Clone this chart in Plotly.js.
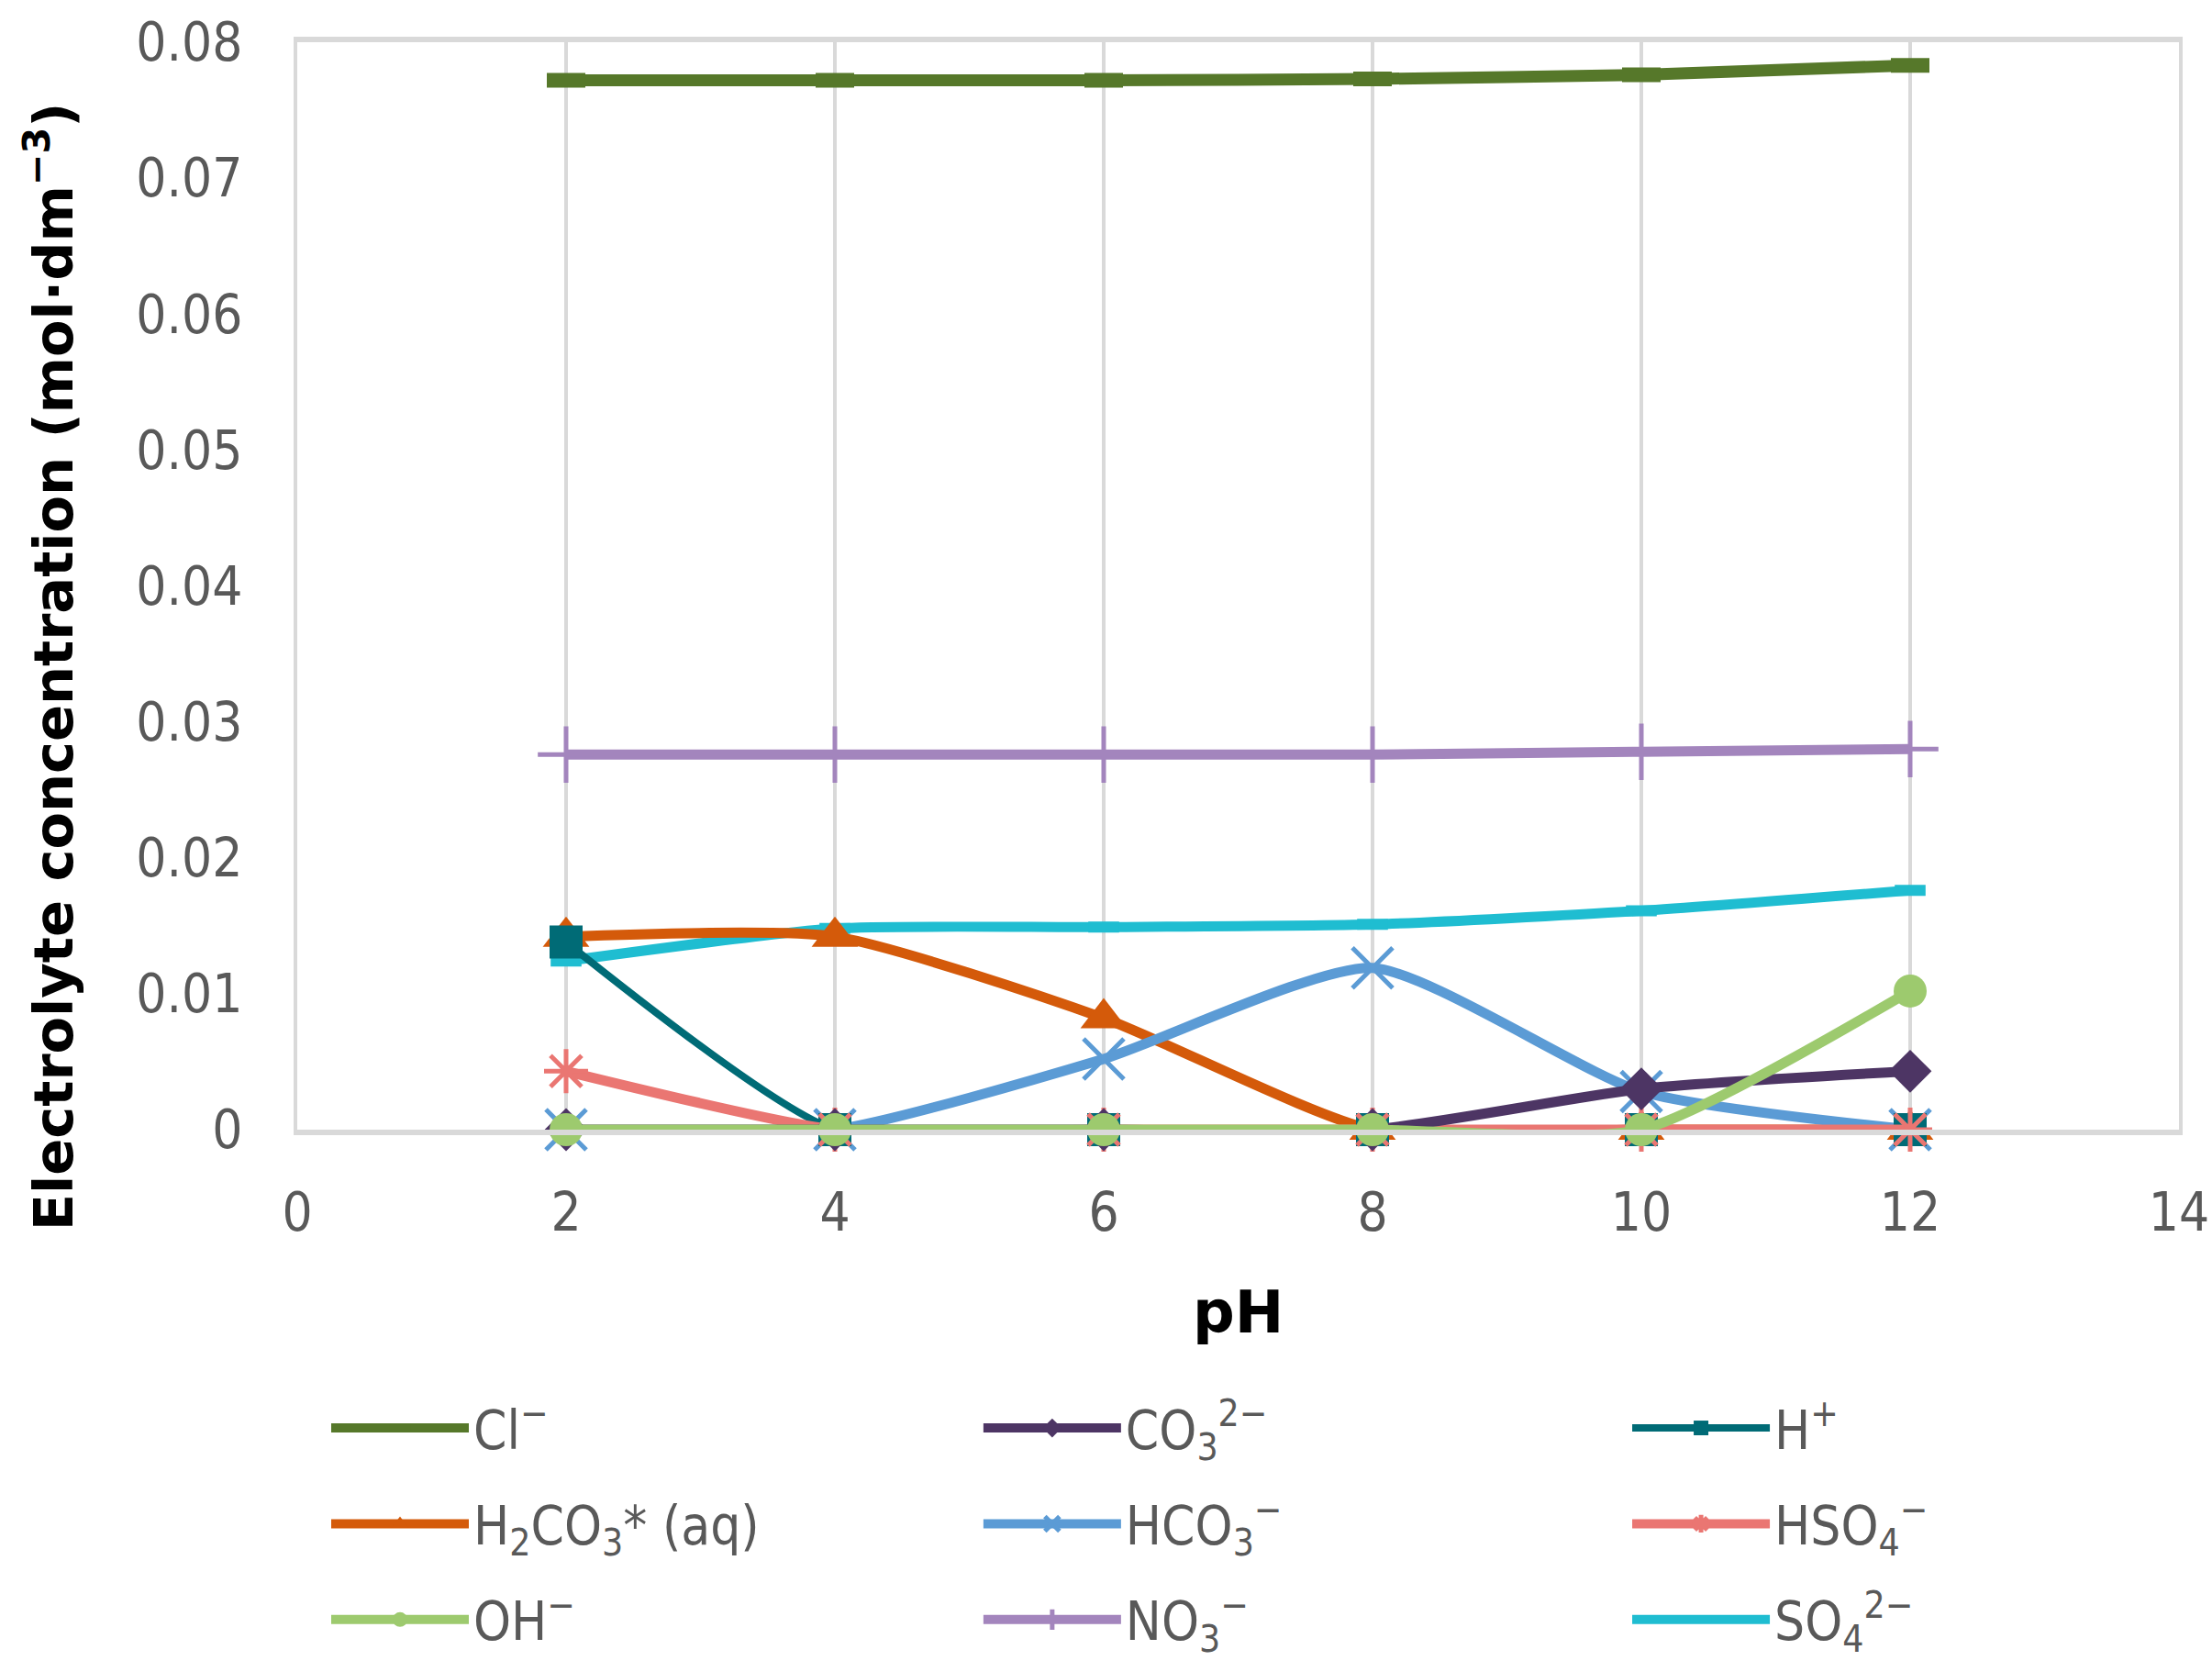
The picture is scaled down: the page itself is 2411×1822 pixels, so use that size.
<!DOCTYPE html>
<html><head><meta charset="utf-8">
<script src="https://cdn.plot.ly/plotly-3.0.1.min.js"></script>
<style>html,body{margin:0;padding:0;background:#fff}</style>
</head><body>
<div id="chart" style="width:2411px;height:1822px"></div>
<script>
const pH = [2, 4, 6, 8, 10, 12];
const seriesNames = [
  "Cl<sup>−</sup>",
  "CO<sub>3</sub><sup>2−</sup>",
  "H<sup>+</sup>",
  "H<sub>2</sub>CO<sub>3</sub>* (aq)",
  "HCO<sub>3</sub><sup>−</sup>",
  "HSO<sub>4</sub><sup>−</sup>",
  "OH<sup>−</sup>",
  "NO<sub>3</sub><sup>−</sup>",
  "SO<sub>4</sub><sup>2−</sup>"
];
const Cl    = [0.0772, 0.0772, 0.0772, 0.0773, 0.0776, 0.0783];
const CO3   = [0, 0, 0, 0, 0.0030, 0.0043];
const H     = [0.0138, 0, 0, 0, 0, 0];
const H2CO3 = [0.0142, 0.0142, 0.0082, 0, 0, 0];
const HCO3  = [0, 0, 0.0052, 0.0119, 0.0028, 0];
const HSO4  = [0.0043, 0, 0, 0, 0, 0];
const OH    = [0, 0, 0, 0, 0, 0.0102];
const NO3   = [0.0276, 0.0276, 0.0276, 0.0276, 0.0278, 0.0280];
const SO4   = [0.0124, 0.0148, 0.0149, 0.0151, 0.0161, 0.0176];
const yTickVals = [0, 0.01, 0.02, 0.03, 0.04, 0.05, 0.06, 0.07, 0.08];
const yTickText = ["0", "0.01", "0.02", "0.03", "0.04", "0.05", "0.06", "0.07", "0.08"];
const xTickVals = [0, 2, 4, 6, 8, 10, 12, 14];

const values = [Cl, CO3, H, H2CO3, HCO3, HSO4, OH, NO3, SO4];
const colors = ["#56782a", "#4d3564", "#006b76", "#d45a0a", "#5b9bd5", "#ea7672", "#9dca6e", "#a385bd", "#1fbdd1"];
const symbols = ["line-ew-open", "diamond", "square", "triangle-up", "x-thin-open", "asterisk-open", "circle", "cross-thin-open", "line-ew-open"];
const msizes = [30, 36, 36, 44, 44, 40, 36, 44, 24];
const mlw = [16, 0, 0, 0, 5, 5, 0, 5, 12];
const lw = [13, 11, 8, 11, 11, 11, 11, 11, 11];
// which legend column each series sits in (row-major grid of 3 columns)
const legendCol = ["legend", "legend2", "legend3", "legend", "legend2", "legend3", "legend", "legend2", "legend3"];

const narrow = "Liberation Sans Narrow, DejaVu Sans Condensed, sans-serif";
const tickFont = {family: narrow, size: 58, color: "#595959"};
const legFont = {family: narrow, size: 58, color: "#595959"};

const traces = values.map((v, i) => ({
  x: pH, y: v, name: seriesNames[i], type: "scatter", mode: "lines+markers",
  line: {color: colors[i], width: lw[i], shape: "spline", smoothing: 0.6},
  marker: {symbol: symbols[i], size: msizes[i], color: colors[i], line: {color: colors[i], width: mlw[i]}},
  cliponaxis: false, legend: legendCol[i], legendgroup: "g" + i, legendrank: i + 1
}));
// drawing order (OH on top, like the reference)
const order = [0, 7, 8, 3, 4, 2, 5, 1, 6];

function legendAt(x) {
  return {
    orientation: "v", x: x, xanchor: "left", y: -0.237, yanchor: "top",
    xref: "paper", yref: "paper",
    font: legFont, itemwidth: 150, tracegroupgap: 26, traceorder: "grouped",
    bgcolor: "rgba(0,0,0,0)", borderwidth: 0
  };
}

const layout = {
  width: 2411, height: 1822,
  margin: {l: 324, r: 36, t: 46, b: 591, autoexpand: false},
  paper_bgcolor: "#fff", plot_bgcolor: "#fff",
  showlegend: true,
  xaxis: {
    range: [0, 14], tickvals: xTickVals, ticktext: xTickVals.map(String),
    showgrid: true, gridcolor: "#d9d9d9", gridwidth: 4,
    showline: true, linecolor: "#d9d9d9", linewidth: 6, mirror: true,
    zeroline: false, ticks: "", tickfont: tickFont, ticklabelstandoff: 34
  },
  yaxis: {
    range: [0, 0.08], tickvals: yTickVals, ticktext: yTickText,
    showgrid: false, showline: true, linecolor: "#d9d9d9", linewidth: 4, mirror: true,
    zeroline: false, ticks: "",
    tickfont: tickFont, ticklabelstandoff: 44
  },
  legend: legendAt(0.0156),
  legend2: legendAt(0.3622),
  legend3: legendAt(0.707),
  annotations: [
    {text: "Electrolyte concentration (mol·dm<sup>−3</sup>)", xref: "paper", yref: "paper",
     x: -0.1316, y: 0.426, textangle: -90, showarrow: false, xanchor: "center", yanchor: "middle",
     font: {family: "DejaVu Sans, sans-serif", size: 59, color: "#000", weight: "bold"}},
    {text: "<b>pH</b>", xref: "paper", yref: "paper", x: 0.5, y: -0.168, showarrow: false,
     xanchor: "center", yanchor: "middle",
     font: {family: "DejaVu Sans, sans-serif", size: 64, color: "#000"}}
  ]
};

const data = order.map(i => traces[i]);
Plotly.newPlot("chart", data, layout, {displayModeBar: false});
</script>
</body></html>
